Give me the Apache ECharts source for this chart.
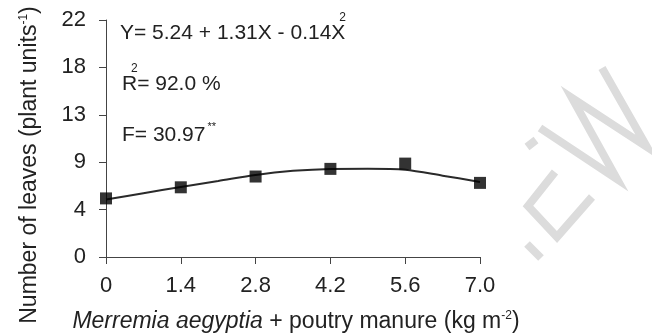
<!DOCTYPE html>
<html><head><meta charset="utf-8">
<script src="https://cdn.jsdelivr.net/npm/echarts@6/dist/echarts.min.js"></script>
<style>html,body{margin:0;padding:0;background:#fff}#c{width:652px;height:336px}</style>
</head><body><div id="c"></div>
<script>
// Data
const doses = [0, 1.4, 2.8, 4.2, 5.6, 7.0];
const leaves = [5.44, 6.47, 7.47, 8.18, 8.67, 6.88];
const curveX = [0, 0.7, 1.4, 2.1, 2.8, 3.5, 4.2, 4.9, 5.6, 6.3, 7.0];
const curveY = [5.33, 5.92, 6.5, 7.05, 7.62, 8.0, 8.18, 8.2, 8.1, 7.55, 6.97];
const xTickLabels = ['0', '1.4', '2.8', '4.2', '5.6', '7.0'];
const yTickLabels = ['0', '4', '9', '13', '18', '22'];

const font = 'Liberation Sans, Arial, sans-serif';
const txt = '#222';
const ctx = document.createElement('canvas').getContext('2d');
function tw(s, size, style) { ctx.font = (style || '') + ' ' + size + 'px ' + font; return ctx.measureText(s).width; }

const eqText = 'Y= 5.24 + 1.31X - 0.14X';
const fText = 'F= 30.97';
const annSize = 21;

const chart = echarts.init(document.getElementById('c'));
chart.setOption({
  animation: false,
  grid: {left: 106, right: 172, top: 20, bottom: 79},
  xAxis: {
    type: 'value', min: 0, max: 7, interval: 1.4,
    axisLine: {lineStyle: {color: '#444', width: 1}},
    axisTick: {show: true, length: 7, lineStyle: {color: '#444'}},
    splitLine: {show: false},
    axisLabel: {color: txt, fontSize: 22, fontFamily: font, margin: 18,
      formatter: v => xTickLabels[Math.round(v / 1.4)]}
  },
  yAxis: {
    type: 'value', min: 0, max: 22, interval: 4.4,
    axisLine: {show: true, lineStyle: {color: '#444', width: 1}},
    axisTick: {show: true, length: 7, lineStyle: {color: '#444'}},
    splitLine: {show: false},
    axisLabel: {color: txt, fontSize: 22, fontFamily: font, margin: 20,
      formatter: v => yTickLabels[Math.round(v / 4.4)]}
  },
  series: [
    {type: 'line', data: curveX.map((x, i) => [x, curveY[i]]), smooth: 0.3,
     showSymbol: false, lineStyle: {color: '#2a2a2a', width: 2}, z: 2},
    {type: 'scatter', data: doses.map((x, i) => [x, leaves[i]]), symbol: 'rect',
     symbolSize: 12, itemStyle: {color: '#000'}, z: 3}
  ],
  graphic: [
    // watermark fragments
    {type: 'polyline', z: -5, shape: {points: [[540,128],[617,179],[572,98],[647,147],[602,68]]},
     style: {stroke: '#dcdcdc', lineWidth: 8, fill: null, lineJoin: 'miter'}},
    {type: 'polyline', z: -5, shape: {points: [[555,172],[528,206],[557,237],[592,197]]},
     style: {stroke: '#dcdcdc', lineWidth: 8, fill: null, lineJoin: 'miter'}},
    {type: 'polyline', z: -5, shape: {points: [[527,147],[536,140]]},
     style: {stroke: '#dcdcdc', lineWidth: 8, fill: null}},
    {type: 'polyline', z: -5, shape: {points: [[527,244],[541,258]]},
     style: {stroke: '#dcdcdc', lineWidth: 8, fill: null}},
    // annotations
    {type: 'text', x: 120, y: 33, style: {text: eqText, fill: txt, fontSize: annSize, fontFamily: font, verticalAlign: 'middle'}},
    {type: 'text', x: 120 + tw(eqText, annSize) - 6, y: 18, style: {text: '2', fill: txt, fontSize: 12, fontFamily: font, verticalAlign: 'middle'}},
    {type: 'text', x: 131, y: 69, style: {text: '2', fill: txt, fontSize: 12, fontFamily: font, verticalAlign: 'middle'}},
    {type: 'text', x: 122, y: 84, style: {text: 'R= 92.0 %', fill: txt, fontSize: annSize, fontFamily: font, verticalAlign: 'middle'}},
    {type: 'text', x: 122, y: 135, style: {text: fText, fill: txt, fontSize: annSize, fontFamily: font, verticalAlign: 'middle'}},
    {type: 'text', x: 122 + tw(fText, annSize) + 2, y: 127, style: {text: '**', fill: txt, fontSize: 11, fontFamily: font, verticalAlign: 'middle'}},
    // axis titles
    {type: 'text', x: 30, y: 165, rotation: Math.PI / 2,
     style: {text: 'Number of leaves (plant units{s|-1})', fill: txt, fontSize: 23, fontFamily: font,
       align: 'center', verticalAlign: 'middle',
       rich: {s: {fontSize: 12, fontFamily: font, fill: txt, verticalAlign: 'top', padding: [0, 0, 12, 0]}}}},
    {type: 'text', x: 296, y: 322,
     style: {text: '{i|Merremia aegyptia} + poutry manure (kg m{s|-2})', fill: txt, fontSize: 23, fontFamily: font,
       align: 'center', verticalAlign: 'middle',
       rich: {i: {fontStyle: 'italic', fontSize: 23, fontFamily: font, fill: txt},
              s: {fontSize: 12, fontFamily: font, fill: txt, verticalAlign: 'top', padding: [0, 0, 12, 0]}}}}
  ]
});
</script></body></html>
